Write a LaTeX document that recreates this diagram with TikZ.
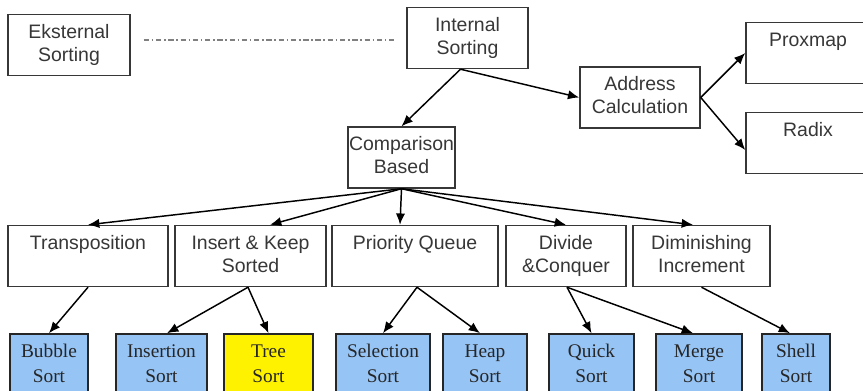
\documentclass[tikz,border=0pt]{standalone}
\usepackage{fontspec}
\setmainfont{Liberation Serif}
\setsansfont{Liberation Sans}
\usetikzlibrary{arrows.meta,calc}

\definecolor{leafblue}{RGB}{150,196,245}
\definecolor{inkgray}{RGB}{55,55,55}

\tikzset{
  wd/.style={minimum width=#1*0.75pt},
  box/.style={draw=inkgray, line width=1.1pt, text=inkgray, inner sep=0pt, align=center,
    font=\sffamily\fontsize{14.6}{17.25}\selectfont, text height=35.25pt, text depth=10.5pt},
  onerow/.style={text height=18pt, text depth=27.75pt},
  leaf/.style={draw=black!85, line width=1.2pt, fill=leafblue, inner sep=0pt, align=center,
    font=\rmfamily\fontsize{14.5}{18}\selectfont, text=black!85, text height=36pt, text depth=13.5pt},
  link/.style={->, line width=1.1pt},
}

\begin{document}
\begin{tikzpicture}[x=0.75pt, y=-0.75pt, >={Latex[length=8.5pt,width=7pt]}]
\clip (0,0) rectangle (863,391);

% top part
\node[box, wd=122] (eks) at (69,45) {Eksternal\\Sorting};
\node[box, wd=121] (int) at (467.5,38) {Internal\\Sorting};
\node[box, wd=120] (addr) at (640,97.5) {Address\\Calculation};
\node[box, onerow, wd=124] (prox) at (808,53) {Proxmap};
\node[box, onerow, wd=124] (radix) at (808,143) {Radix};
\node[box, wd=107] (comp) at (401.5,157.5) {Comparison\\Based};

% second row
\node[box, onerow, wd=160] (trans) at (88,256) {Transposition};
\node[box, wd=151] (insert) at (250.5,256) {Insert \& Keep\\Sorted};
\node[box, onerow, wd=166] (prio) at (415,256) {Priority Queue};
\node[box, wd=120] (divide) at (566,256) {Divide\\\&Conquer};
\node[box, wd=137] (dimin) at (701.5,256) {Diminishing\\Increment};

% leaves
\node[leaf, wd=78] (bubble) at (49,367) {Bubble\\Sort};
\node[leaf, wd=91] (insertion) at (161.5,367) {Insertion\\Sort};
\node[leaf, wd=89, fill=yellow] (tree) at (268.5,367) {Tree\\Sort};
\node[leaf, wd=94] (selection) at (383,367) {Selection\\Sort};
\node[leaf, wd=84] (heap) at (485,367) {Heap\\Sort};
\node[leaf, wd=85] (quick) at (591.5,367) {Quick\\Sort};
\node[leaf, wd=86] (merge) at (699,367) {Merge\\Sort};
\node[leaf, wd=68] (shell) at (796,367) {Shell\\Sort};

\draw[black!50, line width=1.1pt, dash pattern=on 4pt off 2pt on 1.2pt off 2pt,
  shorten <=13*0.75pt, shorten >=12*0.75pt]
  ($(eks.east)+(0,-5)$) -- ($(int.west)+(0,2)$);

\draw[link] ($(int.south)+(-7,0)$) -- (comp.north);
\draw[link] ($(int.south)+(-7,0)$) -- (addr.west);
\draw[link] (addr.east) -- (prox.west);
\draw[link] (addr.east) -- ($(radix.west)+(0,7)$);

\draw[link] (comp.south) -- (trans.north);
\draw[link] (comp.south) -- ($(insert.north)+(19.5,0)$);
\draw[link] (comp.south) -- ($(prio.north)+(-15,0)$);
\draw[link] (comp.south) -- (divide.north);
\draw[link] (comp.south) -- ($(dimin.north)+(-8.5,0)$);

\draw[link] (trans.south) -- (bubble.north);
\draw[link] ($(insert.south)+(-2.5,0)$) -- ($(insertion.north)+(5.5,0)$);
\draw[link] ($(insert.south)+(-2.5,0)$) -- (tree.north);
\draw[link] ($(prio.south)+(2,0)$) -- (selection.north);
\draw[link] ($(prio.south)+(2,0)$) -- ($(heap.north)+(-5,0)$);
\draw[link] ($(divide.south)+(1,0)$) -- (quick.north);
\draw[link] ($(divide.south)+(1,0)$) -- ($(merge.north)+(-6,0)$);
\draw[link] (dimin.south) -- ($(shell.north)+(-6,0)$);
\end{tikzpicture}
\end{document}
